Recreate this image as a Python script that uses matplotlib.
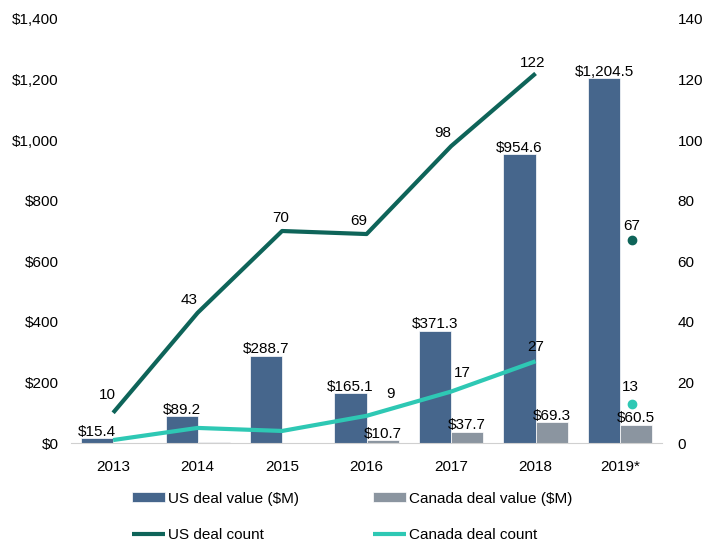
import matplotlib.pyplot as plt
import numpy as np

plt.rcParams['font.family'] = ['Liberation Sans', 'DejaVu Sans']

years = ["2013", "2014", "2015", "2016", "2017", "2018", "2019*"]
us_value = [15.4, 89.2, 288.7, 165.1, 371.3, 954.6, 1204.5]
ca_value = [0.4, 4.6, 0.8, 10.7, 37.7, 69.3, 60.5]
us_count = [10, 43, 70, 69, 98, 122]
ca_count = [1, 5, 4, 9, 17, 27]
us_count_2019 = 67
ca_count_2019 = 13

us_value_labels = ["$15.4", "$89.2", "$288.7", "$165.1", "$371.3", "$954.6", "$1,204.5"]
ca_value_labels = [None, None, None, "$10.7", "$37.7", "$69.3", "$60.5"]

c_us_bar = "#46668c"
c_ca_bar = "#8b95a0"
c_us_line = "#0e6459"
c_ca_line = "#2ec8b4"

fig = plt.figure(figsize=(7.16, 5.41), dpi=100)
ax = fig.add_axes([0.099, 0.181, 0.826, 0.784])
ax2 = ax.twinx()

x = np.arange(len(years))
w = 0.38
b1 = ax.bar(x - w / 2, us_value, w, color=c_us_bar, edgecolor="white", linewidth=0.5,
            label="US deal value ($M)")
b2 = ax.bar(x + w / 2, ca_value, w, color=c_ca_bar, edgecolor="white", linewidth=0.5,
            label="Canada deal value ($M)")

for xi, v, t in zip(x, us_value, us_value_labels):
    ax.annotate(t, (xi - w / 2, v), xytext=(0, -0.5), textcoords="offset points",
                ha="center", va="bottom", fontsize=11)
for xi, v, t in zip(x, ca_value, ca_value_labels):
    if t:
        ax.annotate(t, (xi + w / 2, v), xytext=(0, -0.5), textcoords="offset points",
                    ha="center", va="bottom", fontsize=11)

xl = x[:len(us_count)]
l1, = ax2.plot(xl, us_count, color=c_us_line, lw=3, label="US deal count", solid_capstyle="butt")
l2, = ax2.plot(xl, ca_count, color=c_ca_line, lw=3, label="Canada deal count", solid_capstyle="butt")
ax2.plot([6.14], [us_count_2019], "o", color=c_us_line, ms=6)
ax2.plot([6.14], [ca_count_2019], "o", color=c_ca_line, ms=6)

us_offsets = [(-4, 8), (-6, 4.5), (-1, 4.5), (-6, 4.5), (-6, 4.5), (-2, 2.5)]
for xi, v, off in zip(xl, us_count, us_offsets):
    ax2.annotate(str(v), (xi, v), xytext=off, textcoords="offset points",
                 ha="center", va="bottom", fontsize=11)
ax2.annotate(str(us_count_2019), (6.14, us_count_2019), xytext=(0, 5), textcoords="offset points",
             ha="center", va="bottom", fontsize=11)

ca_offsets = [None, None, None, (17, 11), (8, 8), (0, 5)]
for xi, v, off in zip(xl, ca_count, ca_offsets):
    if off:
        ax2.annotate(str(v), (xi, v), xytext=off, textcoords="offset points",
                     ha="center", va="bottom", fontsize=11)
ax2.annotate(str(ca_count_2019), (6.14, ca_count_2019), xytext=(-1, 7), textcoords="offset points",
             ha="center", va="bottom", fontsize=11)

ax.set_xlim(-0.5, 6.5)
ax.set_ylim(0, 1400)
ax2.set_ylim(0, 140)
ax.set_yticks(np.arange(0, 1401, 200))
ax.set_yticklabels(["${:,}".format(v) for v in range(0, 1401, 200)])
ax2.set_yticks(np.arange(0, 141, 20))
ax.set_xticks(x)
ax.set_xticklabels(years)

for a in (ax, ax2):
    for s in ["top", "right", "left", "bottom"]:
        a.spines[s].set_visible(False)
    a.tick_params(length=0, labelsize=11)
ax.spines["bottom"].set_visible(True)
ax.spines["bottom"].set_color("#d0d0d0")
ax.tick_params(axis="y", pad=9)
ax2.tick_params(axis="y", pad=11)
ax.tick_params(axis="x", pad=12)

fig.legend([b1, l1, b2, l2],
           ["US deal value ($M)", "US deal count", "Canada deal value ($M)", "Canada deal count"],
           ncol=2, loc="lower left", bbox_to_anchor=(0.169, -0.021), frameon=False, fontsize=11,
           handlelength=2.2, handleheight=0.6, columnspacing=4.8, labelspacing=1.45,
           handletextpad=0.2, borderpad=0.2)

fig.savefig("out.png", dpi=100)
